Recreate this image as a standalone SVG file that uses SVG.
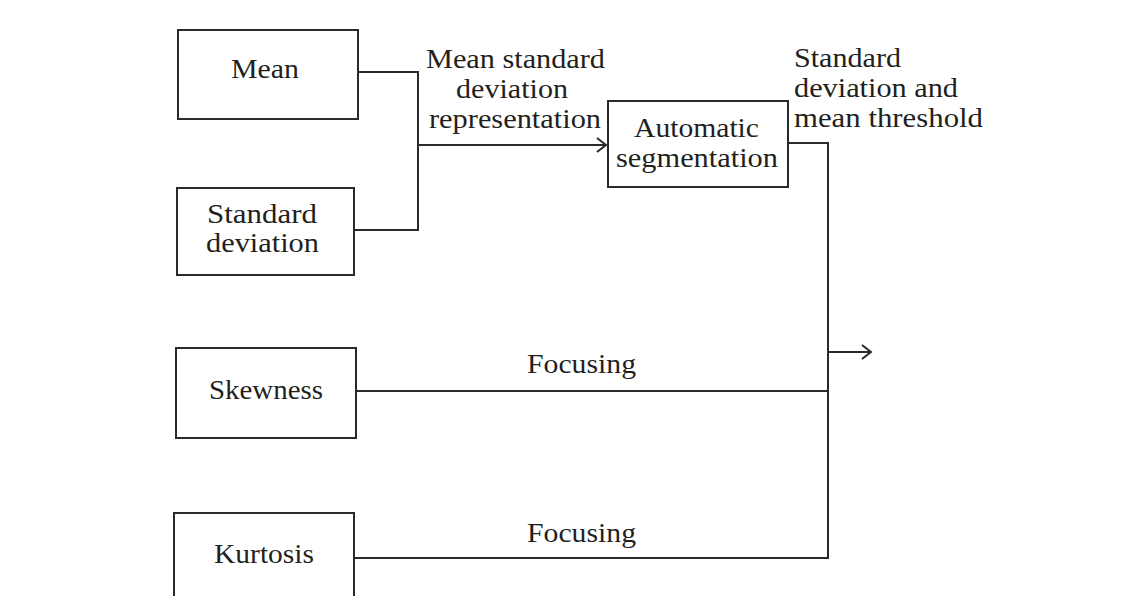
<svg xmlns="http://www.w3.org/2000/svg" width="1140" height="596" viewBox="0 0 1140 596">
<style>
.box{fill:#fff;stroke:#2a2a2a;stroke-width:2}
.ln{fill:none;stroke:#2a2a2a;stroke-width:2}
text{font-family:"Liberation Serif","Times New Roman",serif;font-size:27px;fill:#231f20}
</style>
<defs>
<marker id="arr" markerWidth="14" markerHeight="18" refX="12" refY="9" orient="auto" markerUnits="userSpaceOnUse">
<path d="M3,2 L12,9 L3,16" fill="none" stroke="#2a2a2a" stroke-width="2"/>
</marker>
</defs>
<rect width="1140" height="596" fill="#fff"/>
<g id="connectors">
<polyline class="ln" points="358,72 418,72 418,230 354,230"/>
<line class="ln" x1="418" y1="145" x2="606" y2="145" marker-end="url(#arr)"/>
<polyline class="ln" points="788,143 828,143 828,558 354,558"/>
<line class="ln" x1="356" y1="391" x2="828" y2="391"/>
<line class="ln" x1="828" y1="352" x2="871" y2="352" marker-end="url(#arr)"/>
<text x="426" y="68" textLength="179" lengthAdjust="spacingAndGlyphs">Mean standard</text>
<text x="456" y="98" textLength="112" lengthAdjust="spacingAndGlyphs">deviation</text>
<text x="429" y="128" textLength="172" lengthAdjust="spacingAndGlyphs">representation</text>
<text x="794" y="67" textLength="107" lengthAdjust="spacingAndGlyphs">Standard</text>
<text x="794" y="97" textLength="164" lengthAdjust="spacingAndGlyphs">deviation and</text>
<text x="794" y="127" textLength="189" lengthAdjust="spacingAndGlyphs">mean threshold</text>
<text x="527" y="373" textLength="109" lengthAdjust="spacingAndGlyphs">Focusing</text>
<text x="527" y="542" textLength="109" lengthAdjust="spacingAndGlyphs">Focusing</text>
</g>
<g id="mean">
<rect class="box" x="178" y="30" width="180" height="89"/>
<text x="231" y="78" textLength="68" lengthAdjust="spacingAndGlyphs">Mean</text>
</g>
<g id="stddev">
<rect class="box" x="177" y="188" width="177" height="87"/>
<text x="207" y="223" textLength="110" lengthAdjust="spacingAndGlyphs">Standard</text>
<text x="206" y="252" textLength="113" lengthAdjust="spacingAndGlyphs">deviation</text>
</g>
<g id="autoseg">
<rect class="box" x="608" y="101" width="180" height="86"/>
<text x="634" y="137" textLength="125" lengthAdjust="spacingAndGlyphs">Automatic</text>
<text x="616" y="167" textLength="162" lengthAdjust="spacingAndGlyphs">segmentation</text>
</g>
<g id="skewness">
<rect class="box" x="176" y="348" width="180" height="90"/>
<text x="209" y="399" textLength="114" lengthAdjust="spacingAndGlyphs">Skewness</text>
</g>
<g id="kurtosis">
<rect class="box" x="174" y="513" width="180" height="100"/>
<text x="214" y="563" textLength="100" lengthAdjust="spacingAndGlyphs">Kurtosis</text>
</g>
</svg>
